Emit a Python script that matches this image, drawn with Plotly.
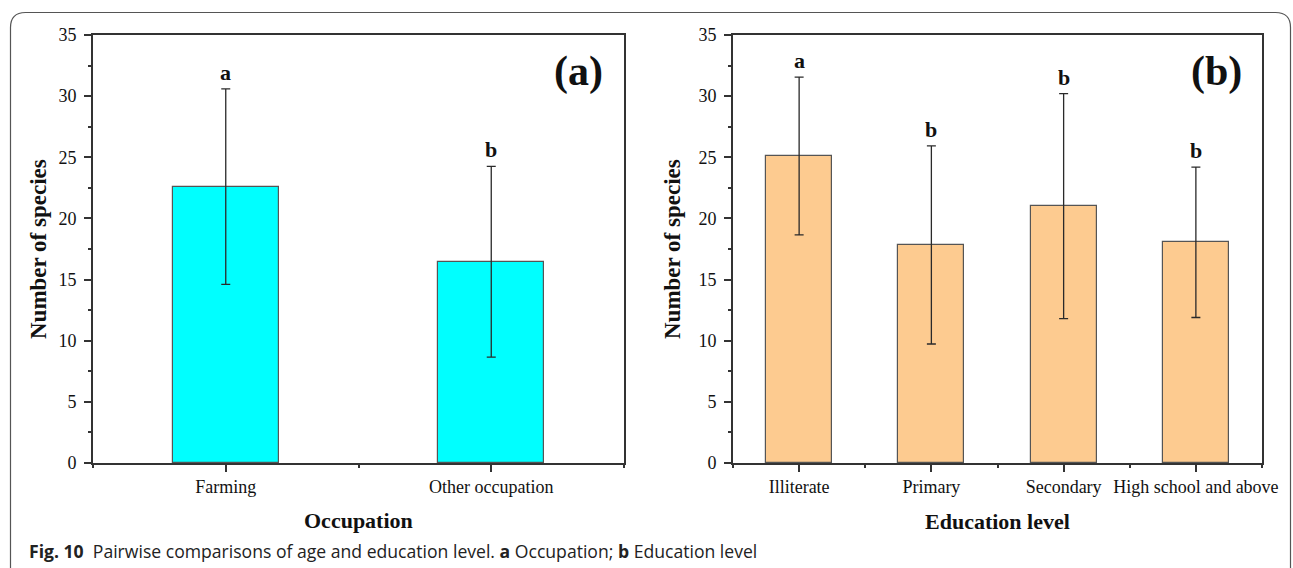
import plotly.graph_objects as go

W, H = 1293, 568

# ---------------- data ----------------
occ_categories = ["Farming", "Other occupation"]
occ_means = [22.6, 16.45]
occ_err = [8.0, 7.8]
occ_letters = ["a", "b"]

edu_categories = ["Illiterate", "Primary", "Secondary", "High school and above"]
edu_means = [25.1, 17.83, 21.0, 18.05]
edu_err = [6.45, 8.1, 9.2, 6.15]
edu_letters = ["a", "b", "b", "b"]

y_ticks = [0, 5, 10, 15, 20, 25, 30, 35]

# ---------------- layout helpers ----------------
def px_x(p):
    return p / W

def px_y(p):
    return 1 - p / H

SERIF = "Liberation Serif, Times New Roman, serif"
AXC = "#333333"

dom_y = [px_y(463), px_y(35)]
dom_xa = [px_x(93), px_x(624)]
dom_xb = [px_x(733), px_x(1262)]

fig = go.Figure()

occ_x = list(range(len(occ_categories)))
edu_x = list(range(len(edu_categories)))

fig.add_trace(go.Bar(
    x=occ_x, y=occ_means, width=0.4,
    marker=dict(color="#00FFFF", line=dict(color="#555555", width=1.2)),
    error_y=dict(type="data", array=occ_err, visible=True, color="#2a2a2a", thickness=1.3, width=4.5),
    xaxis="x", yaxis="y", showlegend=False,
))
fig.add_trace(go.Bar(
    x=edu_x, y=edu_means, width=0.5,
    marker=dict(color="#FDCB90", line=dict(color="#555555", width=1.2)),
    error_y=dict(type="data", array=edu_err, visible=True, color="#2a2a2a", thickness=1.3, width=4.5),
    xaxis="x2", yaxis="y2", showlegend=False,
))

def xaxis_cfg(domain, cats, anchor):
    n = len(cats)
    return dict(
        domain=domain, anchor=anchor, range=[-0.5, n - 0.5],
        tickmode="array", tickvals=list(range(n)), ticktext=cats,
        ticks="outside", ticklen=7, tickwidth=1.6, tickcolor=AXC,
        minor=dict(tickmode="linear", tick0=0.5, dtick=1, ticks="outside",
                   ticklen=3, tickwidth=1.6, tickcolor=AXC, showgrid=False),
        showline=True, linecolor=AXC, linewidth=1.6, mirror=True,
        showgrid=False, zeroline=False,
        tickfont=dict(family=SERIF, size=18, color="#111111"),
        automargin=False,
        fixedrange=True,
    )

def yaxis_cfg(anchor):
    return dict(
        domain=dom_y, anchor=anchor, range=[0, 35],
        tickmode="array", tickvals=y_ticks,
        ticks="outside", ticklen=7, tickwidth=1.6, tickcolor=AXC,
        minor=dict(tickmode="linear", tick0=2.5, dtick=5, ticks="outside",
                   ticklen=3, tickwidth=1.6, tickcolor=AXC, showgrid=False),
        showline=True, linecolor=AXC, linewidth=1.6, mirror=True,
        showgrid=False, zeroline=False,
        tickfont=dict(family=SERIF, size=18, color="#111111"),
        ticklabelstandoff=4,
        automargin=False,
        fixedrange=True,
    )

annotations = []

# letters above error bars
for xs, means, errs, letters, xr, yr in [
    (occ_x, occ_means, occ_err, occ_letters, "x", "y"),
    (edu_x, edu_means, edu_err, edu_letters, "x2", "y2"),
]:
    for xi, m, e, l in zip(xs, means, errs, letters):
        annotations.append(dict(
            x=xi, y=m + e, xref=xr, yref=yr, text="<b>%s</b>" % l,
            showarrow=False, xanchor="center", yanchor="bottom", yshift=2,
            font=dict(family=SERIF, size=22, color="#111111"),
        ))

def paper_text(x, y, text, size, family=SERIF, angle=0, xanchor="center", color="#111111"):
    return dict(x=px_x(x), y=px_y(y), xref="paper", yref="paper", text=text,
                textangle=angle, showarrow=False, xanchor=xanchor, yanchor="middle",
                font=dict(family=family, size=size, color=color))

# panel labels
annotations.append(paper_text(578, 71, "<b>(a)</b>", 42))
annotations.append(paper_text(1216, 71, "<b>(b)</b>", 42))

# axis titles
annotations.append(paper_text(38, 249, "<b>Number of species</b>", 23, angle=-90))
annotations.append(paper_text(672, 249, "<b>Number of species</b>", 23, angle=-90))
annotations.append(paper_text(358, 520, "<b>Occupation</b>", 22))
annotations.append(paper_text(997, 521, "<b>Education level</b>", 22))

# caption
annotations.append(paper_text(
    27, 551,
    "<b>Fig. 10</b>  Pairwise comparisons of age and education level. <b>a</b> Occupation; <b>b</b> Education level",
    17.6, family="Open Sans, Noto Sans, sans-serif", xanchor="left", color="#222222"))

# outer rounded frame
r = 15
x0, x1, yt, yb = 10.5, 1290.5, 12.5, 600
def P(x, y):
    return "%.5f,%.5f" % (px_x(x), px_y(y))
path = ("M " + P(x0, yb) + " L " + P(x0, yt + r) + " Q " + P(x0, yt) + " " + P(x0 + r, yt) +
        " L " + P(x1 - r, yt) + " Q " + P(x1, yt) + " " + P(x1, yt + r) + " L " + P(x1, yb))

fig.update_layout(
    width=W, height=H,
    margin=dict(l=0, r=0, t=0, b=0, autoexpand=False),
    paper_bgcolor="white", plot_bgcolor="white",
    xaxis=xaxis_cfg(dom_xa, occ_categories, "y"),
    yaxis=yaxis_cfg("x"),
    xaxis2=xaxis_cfg(dom_xb, edu_categories, "y2"),
    yaxis2=yaxis_cfg("x2"),
    annotations=annotations,
    shapes=[dict(type="path", path=path, xref="paper", yref="paper",
                 line=dict(color="#555555", width=1.2))],
    bargap=0,
)

fig.write_html("out.html")
